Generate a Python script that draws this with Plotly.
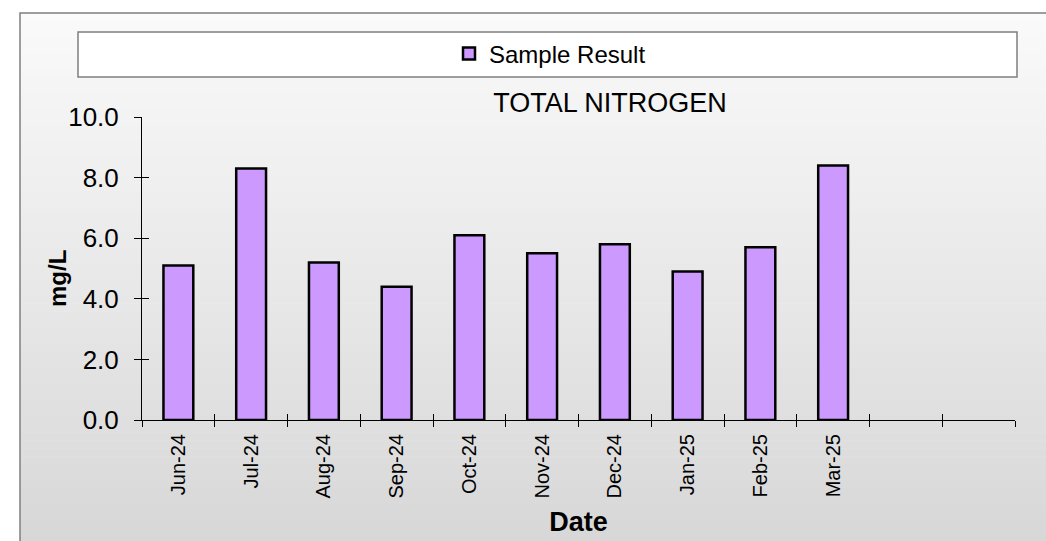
import plotly.graph_objects as go

months = ["Jun-24", "Jul-24", "Aug-24", "Sep-24", "Oct-24", "Nov-24",
          "Dec-24", "Jan-25", "Feb-25", "Mar-25"]
blank_slots = [" ", "  "]
values = [5.1, 8.3, 5.2, 4.4, 6.1, 5.5, 5.8, 4.9, 5.7, 8.4]
y_ticks = [0, 2, 4, 6, 8, 10]
y_tick_labels = ["0.0", "2.0", "4.0", "6.0", "8.0", "10.0"]
series_name = "Sample Result"
chart_title = "TOTAL NITROGEN"
x_title = "Date"
y_title = "mg/L"

categories = months + blank_slots

W, H = 1046, 541
L, R, T, B = 142, 31, 117, 121
PW, PH = W - L - R, H - T - B


def px_x(px):
    return (px - L) / PW


def px_y(py):
    return (H - B - py) / PH


FONT = "Liberation Sans, Arial, sans-serif"

fig = go.Figure()
fig.add_trace(go.Bar(
    x=months, y=values, name=series_name,
    marker=dict(color="#CC99FF", line=dict(color="black", width=2.5)),
))
# invisible helper trace for the inner half of the crossing ticks
fig.add_trace(go.Scatter(
    x=months, y=values, xaxis="x2", yaxis="y2", mode="markers",
    marker=dict(opacity=0), showlegend=False, hoverinfo="skip",
))

shapes = []
# gradient background inside the outer frame
top_px, bot_px = 13, 545
n = 66
c_top, c_bot = 250, 215
for i in range(n):
    a = top_px + (bot_px - top_px) * i / n
    b = top_px + (bot_px - top_px) * (i + 1) / n
    t = (i + 0.5) / n
    c = round(c_top + (c_bot - c_top) * t)
    shapes.append(dict(type="rect", xref="paper", yref="paper",
                       x0=px_x(20), x1=px_x(1050), y0=px_y(b + 0.5), y1=px_y(a),
                       fillcolor=f"rgb({c},{c},{c})", line=dict(width=0),
                       layer="below"))
# outer frame
shapes.append(dict(type="rect", xref="paper", yref="paper",
                   x0=px_x(20), x1=px_x(1050), y0=px_y(545), y1=px_y(13),
                   fillcolor="rgba(0,0,0,0)", line=dict(color="#7f7f7f", width=1.5),
                   layer="below"))
# legend box
shapes.append(dict(type="rect", xref="paper", yref="paper",
                   x0=px_x(78), x1=px_x(1017), y0=px_y(77), y1=px_y(32),
                   fillcolor="white", line=dict(color="#7f7f7f", width=1.5),
                   layer="below"))

axis_common = dict(showgrid=False, zeroline=False)

fig.update_layout(
    width=W, height=H,
    margin=dict(l=L, r=R, t=T, b=B, autoexpand=False),
    paper_bgcolor="white", plot_bgcolor="rgba(0,0,0,0)",
    font=dict(family=FONT, color="black"),
    shapes=shapes,
    bargap=0.59,
    showlegend=True,
    legend=dict(x=px_x(550), y=px_y(54), xanchor="center", yanchor="middle",
                orientation="h", bgcolor="rgba(0,0,0,0)", itemwidth=30,
                font=dict(size=24, family=FONT)),
    title=dict(text=chart_title, xref="paper", x=px_x(610), xanchor="center",
               yref="container", y=1 - 103 / H, yanchor="middle",
               font=dict(size=27, family=FONT, color="black")),
    annotations=[dict(text=f"<b>{y_title}</b>", xref="paper", yref="paper",
                      x=px_x(57), y=px_y(279), xanchor="center", yanchor="middle",
                      textangle=-90, showarrow=False,
                      font=dict(size=24, family=FONT, color="black"))],
    xaxis=dict(**axis_common, type="category", categoryorder="array",
               categoryarray=categories, range=[-0.5, len(categories) - 0.5],
               tickson="boundaries", ticks="outside", ticklen=6, tickwidth=1,
               tickcolor="black", showline=True, linecolor="black", linewidth=1,
               tickangle=-90, tickfont=dict(size=20, family=FONT),
               ticklabelstandoff=5,
               title=dict(text=f"<b>{x_title}</b>", font=dict(size=27, family=FONT),
                          standoff=14),
               fixedrange=True),
    xaxis2=dict(**axis_common, type="category", categoryorder="array",
                categoryarray=categories, range=[-0.5, len(categories) - 0.5],
                tickson="boundaries", ticks="inside", ticklen=6, tickwidth=1,
                tickcolor="black", showticklabels=False, overlaying="x",
                anchor="y", showline=False),
    yaxis=dict(**axis_common, range=[0, 10], tickvals=y_ticks,
               ticktext=y_tick_labels, ticks="outside", ticklen=7, tickwidth=1,
               tickcolor="black", showline=True, linecolor="black", linewidth=1,
               tickfont=dict(size=26, family=FONT), ticklabelstandoff=10,
               fixedrange=True),
    yaxis2=dict(**axis_common, range=[0, 10], tickvals=y_ticks,
                ticks="inside", ticklen=7, tickwidth=1, tickcolor="black",
                showticklabels=False, overlaying="y", anchor="x", showline=False),
)

fig.write_html("out.html", config={"displayModeBar": False},
               post_script="document.body.style.margin='0';"
                           "document.body.style.overflow='hidden';")
